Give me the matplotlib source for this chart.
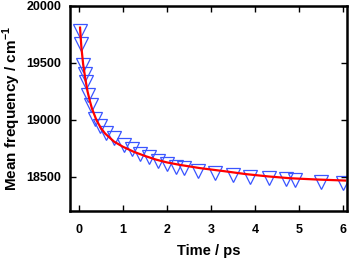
import matplotlib
matplotlib.use("Agg")
import matplotlib.pyplot as plt

# measured mean frequency (open triangles)
time_ps = [0.02, 0.05, 0.10, 0.14, 0.17, 0.21, 0.28, 0.38, 0.48, 0.62, 0.80,
           1.02, 1.21, 1.40, 1.60, 1.80, 2.00, 2.20, 2.39, 2.70, 3.09,
           3.49, 3.89, 4.31, 4.71, 4.90, 5.50, 6.00]
freq = [19779, 19668, 19484, 19405, 19332, 19215, 19133, 19010, 18948, 18887, 18843,
        18779, 18741, 18702, 18671, 18641, 18612, 18588, 18578, 18556, 18537,
        18518, 18503, 18490, 18478, 18475, 18458, 18450]

# fitted curve (red line)
fit_t = [0.03, 0.06, 0.10, 0.15, 0.20, 0.25, 0.30, 0.40, 0.50, 0.60, 0.80, 1.00,
         1.25, 1.50, 1.75, 2.00, 2.30, 2.75, 3.30, 3.80, 4.30, 4.80, 5.40, 6.04]
fit_f = [19810, 19640, 19490, 19360, 19250, 19170, 19100, 19000, 18930, 18880, 18810, 18765,
         18720, 18684, 18652, 18627, 18605, 18577, 18550, 18524, 18504, 18488, 18477, 18468]

plt.rcParams['font.family'] = ['Liberation Sans', 'DejaVu Sans']
plt.rcParams['font.weight'] = 'bold'
plt.rcParams['mathtext.fontset'] = 'custom'
plt.rcParams['mathtext.rm'] = 'Liberation Sans:bold'
plt.rcParams['mathtext.bf'] = 'Liberation Sans:bold'

fig = plt.figure(figsize=(3.53, 2.59), dpi=100)
ax = fig.add_axes([0.198, 0.185, 0.786, 0.792])

ax.plot(time_ps, freq, linestyle='none', marker='v', markersize=9.5,
        markerfacecolor='none', markeredgecolor='#3a55ff', markeredgewidth=0.9)
ax.plot(fit_t, fit_f, color='#ff0000', linewidth=1.6)

ax.set_xlim(-0.2, 6.09)
ax.set_ylim(18200, 20000)
ax.set_xticks([0, 1, 2, 3, 4, 5, 6])
ax.set_yticks([18500, 19000, 19500, 20000])

for s in ax.spines.values():
    s.set_linewidth(1.8)
ax.tick_params(direction='in', top=True, right=True, length=4, width=1,
               labelsize=9, pad=6)
ax.tick_params(axis='x', pad=9)
for lab in ax.get_xticklabels() + ax.get_yticklabels():
    lab.set_fontweight('bold')

ax.set_xlabel("Time / ps", fontsize=10.5, fontweight='bold', labelpad=6)
ax.set_ylabel("Mean frequency / cm$^{\\mathbf{-1}}$", fontsize=11,
              fontweight='bold')
ax.yaxis.set_label_coords(-0.168, 0.5)

fig.savefig("out.png", dpi=100)
